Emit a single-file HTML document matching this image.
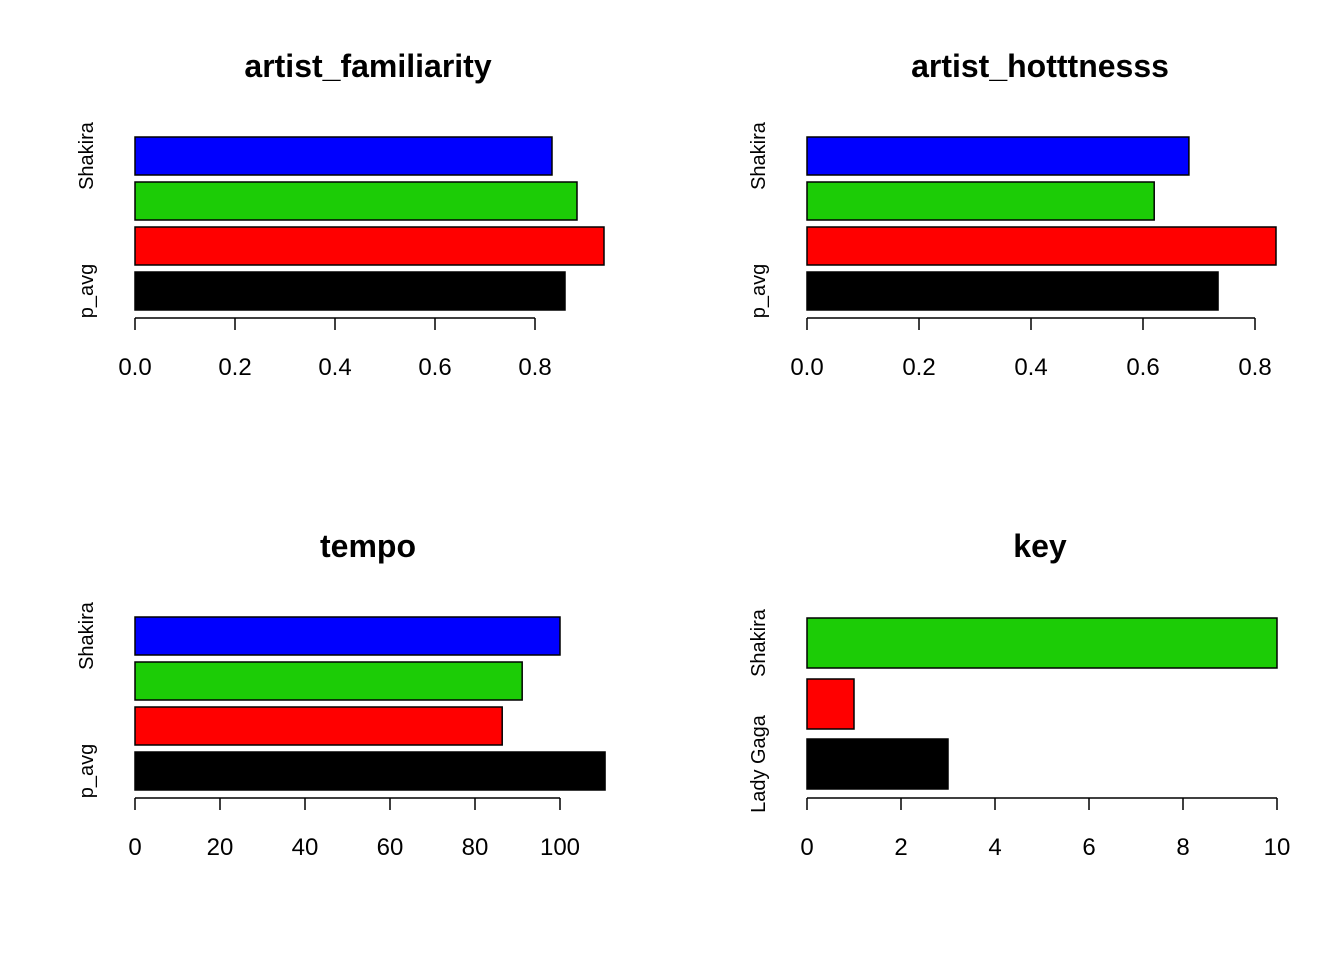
<!DOCTYPE html>
<html><head><meta charset="utf-8"><style>body{margin:0;background:#fff}svg{display:block}text{font-family:"Liberation Sans",Arial,sans-serif}</style></head>
<body>
<svg id="c" width="1344" height="960"></svg>
<script>
const famValues=[0.86,0.938,0.884,0.834];
const hotValues=[0.734,0.8375,0.62,0.682];
const tempoValues=[110.6,86.4,91.1,100];
const keyValues=[3,1,10];
const famTicks=[0,0.2,0.4,0.6,0.8];
const tempoTicks=[0,20,40,60,80,100];
const keyTicks=[0,2,4,6,8,10];
const colors4=["#000000","#ff0000","#1ccc06","#0000ff"];
const colors3=["#000000","#ff0000","#1ccc06"];
const NS="http://www.w3.org/2000/svg";
const svg=document.getElementById('c');
function mk(t,a,p){const e=document.createElementNS(NS,t);for(const k in a)e.setAttribute(k,a[k]);(p||svg).appendChild(e);return e;}
function panel(name,title,vals,cols,ticks,x0,pxPerUnit,axisY,barTops,barH,labels,dec){
  const g=mk('g',{});
  
  
  const sx=v=>x0+v*pxPerUnit;
  const t=mk('text',{x:x0+233,y:axisY-241,'text-anchor':'middle','font-size':32,'font-weight':'bold'},g);
  t.textContent=title;
  
  
  vals.forEach((v,i)=>{
    const r=mk('rect',{x:sx(0),y:barTops[i],width:sx(v)-sx(0),height:barH,fill:cols[i],stroke:'#000','stroke-width':1.5},g);
    
    
  });
  const ax=mk('line',{x1:sx(ticks[0]),x2:sx(ticks[ticks.length-1]),y1:axisY,y2:axisY,stroke:'#000','stroke-width':1.5},g);
  
  
  ticks.forEach(tv=>{
    mk('line',{x1:sx(tv),x2:sx(tv),y1:axisY,y2:axisY+12,stroke:'#000','stroke-width':1.5},g);
    const tl=mk('text',{x:sx(tv),y:axisY+57,'text-anchor':'middle','font-size':24},g);
    tl.textContent=dec?tv.toFixed(1):tv;
    
    
  });
  labels.forEach(l=>{
    const yl=mk('text',{x:0,y:0,'text-anchor':'middle','font-size':20,transform:`translate(${x0-42},${l[1]}) rotate(-90)`},g);
    yl.textContent=l[0];
    
    
  });
}
const top4=[272,227,182,137];
panel('artist-familiarity','artist_familiarity',famValues,colors4,famTicks,135,500,318,top4,38,[['Shakira',156],['p_avg',291]],true);
panel('artist-hotttnesss','artist_hotttnesss',hotValues,colors4,famTicks,807,560,318,top4,38,[['Shakira',156],['p_avg',291]],true);
panel('tempo','tempo',tempoValues,colors4,tempoTicks,135,4.25,798,[752,707,662,617],38,[['Shakira',636],['p_avg',771]],false);
panel('key','key',keyValues,colors3,keyTicks,807,47,798,[739,679,618],50,[['Shakira',643],['Lady Gaga',764]],false);
</script>
</body></html>
